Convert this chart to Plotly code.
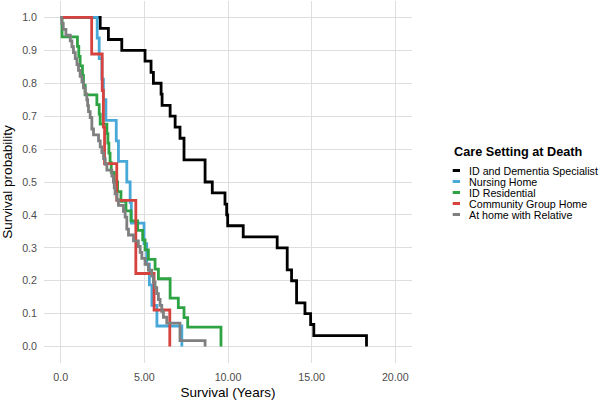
import plotly.graph_objects as go

# ---------------- data ----------------
group_names = ["ID and Dementia Specialist", "Nursing Home", "ID Residential",
               "Community Group Home", "At home with Relative"]
group_colors = ["#000000", "#48A8D8", "#2EA343", "#D6423D", "#7F7F7F"]

t_specialist = [0, 2.36, 2.85, 3.65, 5.04, 5.40, 5.54, 6.00, 6.06, 6.54, 6.84, 7.13, 7.37,
                8.63, 9.06, 9.82, 9.92, 9.98, 10.91, 12.94, 13.54, 13.80, 14.10, 14.60,
                14.94, 15.13, 18.28]
s_specialist = [1.0, 0.967, 0.933, 0.900, 0.867, 0.833, 0.800, 0.767, 0.733, 0.700, 0.667,
                0.633, 0.567, 0.500, 0.467, 0.433, 0.400, 0.367, 0.333, 0.300, 0.233,
                0.200, 0.133, 0.100, 0.067, 0.033, 0.0]

t_nursing = [0, 2.18, 2.30, 2.46, 2.55, 2.70, 3.32, 3.45, 3.95, 4.15, 4.22, 4.98, 5.14,
             5.30, 5.45, 5.75, 7.24]
s_nursing = [1.0, 0.9375, 0.875, 0.8125, 0.75, 0.6875, 0.625, 0.5625, 0.5, 0.4375, 0.375,
             0.3125, 0.25, 0.1875, 0.125, 0.0625, 0.0]

t_residential = [0, 0.08, 1.00, 1.08, 1.16, 1.30, 1.36, 1.46, 2.16, 2.30, 2.36, 2.76, 2.82,
                 2.88, 2.95, 3.02, 3.20, 3.40, 3.60, 3.90, 4.20, 4.60, 4.90, 5.04, 5.24,
                 5.64, 5.84, 6.54, 7.03, 7.37, 7.59, 9.58]
s_residential = [1.0, 0.941, 0.912, 0.882, 0.853, 0.824, 0.794, 0.765, 0.735, 0.706, 0.676,
                 0.647, 0.618, 0.588, 0.559, 0.529, 0.500, 0.471, 0.441, 0.412, 0.382,
                 0.353, 0.324, 0.294, 0.265, 0.235, 0.206, 0.147, 0.118, 0.088, 0.059, 0.0]

t_community = [0, 1.85, 2.48, 2.55, 2.62, 3.35, 4.49, 5.58, 6.52]
s_community = [1.0, 0.889, 0.778, 0.667, 0.556, 0.444, 0.222, 0.111, 0.0]

t_relative = [0, 0.06, 0.15, 0.31, 0.57, 0.67, 0.76, 0.87, 0.97, 1.06, 1.16, 1.27, 1.36,
              1.46, 1.56, 1.61, 1.66, 1.76, 1.86, 1.96, 2.26, 2.36, 2.46, 2.56, 2.66, 2.76,
              3.06, 3.15, 3.20, 3.25, 3.36, 3.45, 3.75, 3.85, 3.95, 4.05, 4.35, 4.64, 4.75,
              4.85, 5.04, 5.24, 5.44, 5.54, 5.64, 5.74, 5.84, 5.94, 6.04, 6.14, 6.34, 7.13,
              8.63]
s_relative = [1.0, 0.982, 0.964, 0.946, 0.929, 0.911, 0.893, 0.875, 0.857, 0.839, 0.821,
              0.804, 0.786, 0.768, 0.750, 0.732, 0.714, 0.696, 0.661, 0.643, 0.625, 0.607,
              0.589, 0.571, 0.554, 0.536, 0.518, 0.500, 0.482, 0.464, 0.446, 0.429, 0.411,
              0.393, 0.357, 0.339, 0.321, 0.304, 0.286, 0.268, 0.250, 0.232, 0.214, 0.196,
              0.179, 0.161, 0.143, 0.125, 0.107, 0.089, 0.071, 0.018, 0.0]

x_tick_vals = [0, 5, 10, 15, 20]
x_tick_text = ["0.0", "5.00", "10.00", "15.00", "20.00"]
y_tick_vals = [0.0, 0.1, 0.2, 0.3, 0.4, 0.5, 0.6, 0.7, 0.8, 0.9, 1.0]

series_t = [t_specialist, t_nursing, t_residential, t_community, t_relative]
series_s = [s_specialist, s_nursing, s_residential, s_community, s_relative]

# ---------------- figure ----------------
W, H = 600, 403
ML, MR, MT, MB = 44, 188, 1, 40
FONT = "Liberation Sans, Arial, sans-serif"

fig = go.Figure()
for name, col, tt, ss in zip(group_names, group_colors, series_t, series_s):
    fig.add_trace(go.Scatter(x=tt, y=ss, mode="lines", name=name,
                             line=dict(color=col, width=2.8, shape="hv"),
                             showlegend=False))

def px2x(px):
    return (px - ML) / (W - ML - MR)

def py2y(py):
    return (H - MB - py) / (H - MT - MB)

# custom compact legend (ggplot style)
annotations = [dict(text="<b>Care Setting at Death</b>", xref="paper", yref="paper",
                    x=px2x(451.5), y=py2y(152.5), xanchor="left", yanchor="middle",
                    showarrow=False, font=dict(family=FONT, size=12.7, color="#000000"))]
shapes = []
y0 = 170.5
step = 11.0
for i, (name, col) in enumerate(zip(group_names, group_colors)):
    yc = y0 + i * step
    shapes.append(dict(type="line", xref="paper", yref="paper",
                       x0=px2x(452.7), x1=px2x(460), y0=py2y(yc), y1=py2y(yc),
                       line=dict(color=col, width=3)))
    annotations.append(dict(text=name, xref="paper", yref="paper",
                            x=px2x(466.5), y=py2y(yc), xanchor="left", yanchor="middle",
                            showarrow=False,
                            font=dict(family=FONT, size=10.7, color="#000000")))

fig.update_layout(
    width=W, height=H,
    margin=dict(l=ML, r=MR, t=MT, b=MB, pad=0),
    paper_bgcolor="white", plot_bgcolor="white",
    font=dict(family=FONT),
    annotations=annotations, shapes=shapes,
    xaxis=dict(range=[-1, 21], tickvals=x_tick_vals, ticktext=x_tick_text,
               showgrid=True, gridcolor="#DEDEDE", gridwidth=1.3, zeroline=False,
               showline=False, ticks="", ticklabelstandoff=6,
               tickfont=dict(family=FONT, size=10.7, color="#4D4D4D"),
               title=dict(text="Survival (Years)", standoff=5,
                          font=dict(family=FONT, size=13.5, color="#000000"))),
    yaxis=dict(range=[-0.05, 1.05], tickvals=y_tick_vals, tickformat=".1f",
               showgrid=True, gridcolor="#DEDEDE", gridwidth=1.3, zeroline=False,
               showline=False, ticks="", ticklabelstandoff=6,
               tickfont=dict(family=FONT, size=10.7, color="#4D4D4D"),
               title=dict(text="Survival probability", standoff=6,
                          font=dict(family=FONT, size=13.5, color="#000000"))),
)

fig.write_html("out.html")
